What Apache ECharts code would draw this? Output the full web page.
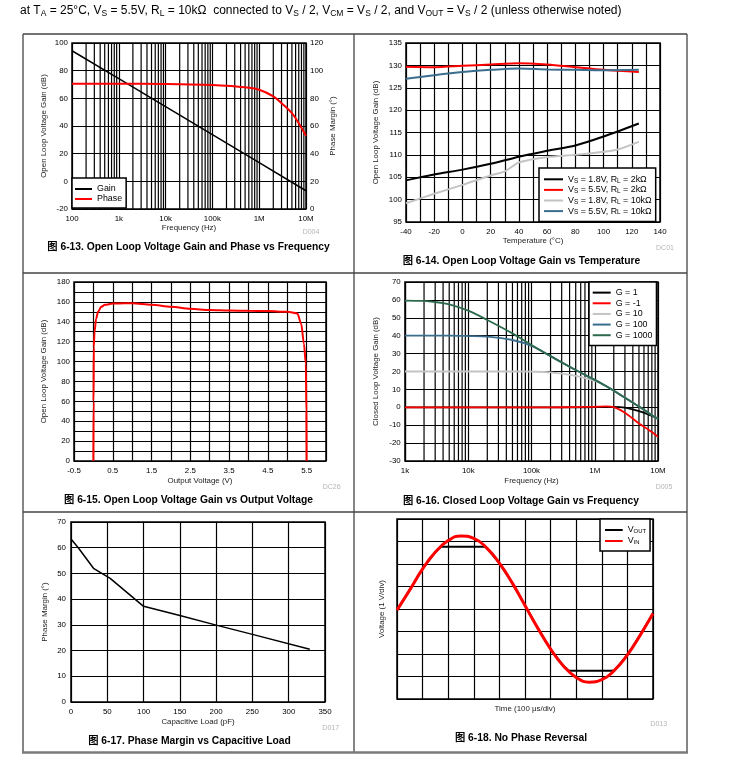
<!DOCTYPE html>
<html><head><meta charset="utf-8">
<script src="https://cdn.jsdelivr.net/npm/echarts@6/dist/echarts.min.js"></script>
<style>html,body{margin:0;padding:0;background:#fff;}#c{width:738px;height:763px;}</style>
</head><body><div id="c"></div>
<script>
// ---------- Panel 1: Open loop gain & phase vs frequency ----------
const p1Freq = [100, 1e3, 1e4, 1e5, 1e6, 1e7];
const p1Gain = [94.4, 74.2, 54.0, 33.8, 13.6, -6.8];
const p1PhaseFreq = [100, 1e3, 1e4, 1e5, 3e5, 5e5, 1e6, 2e6, 3e6, 5e6, 7e6, 1e7];
const p1Phase = [90.5, 90.5, 90.3, 89.6, 88.7, 88.0, 86.2, 81.4, 76.5, 69.3, 62.0, 52.9];
const p1TickLabels = ['100', '1k', '10k', '100k', '1M', '10M'];

// ---------- Panel 2: Open loop gain vs temperature ----------
const p2Temp = [-40, -20, 0, 20, 40, 60, 80, 100, 125];
const p2Vs18Rl2k = [104.3, 105.6, 106.7, 108.0, 109.6, 110.9, 112.1, 114.1, 117.0];
const p2Vs55Rl2k = [129.7, 129.6, 129.9, 130.2, 130.5, 130.2, 129.6, 129.0, 128.5];
const p2TempB = [-40, -20, 0, 20, 30, 40, 60, 80, 100, 110, 125];
const p2Vs18Rl10k = [99.2, 101.3, 103.3, 105.4, 106.3, 108.3, 109.5, 110.0, 110.7, 111.2, 112.9];
const p2Vs55Rl10k = [127.0, 127.8, 128.5, 129.0, 129.3, 129.1, 129.0, 128.9, 129.0];

// ---------- Panel 3: Open loop gain vs output voltage ----------
const p3Vout = [0.0, 0.005, 0.01, 0.03, 0.07, 0.12, 0.2, 0.3, 0.5, 0.8, 1.0, 1.5, 2.0, 2.5, 3.0, 3.5, 4.0, 4.5, 5.0, 5.26, 5.36, 5.43, 5.48, 5.495, 5.5];
const p3Gain = [0, 60, 115, 130, 143, 150, 155, 157, 158.3, 158.7, 158.6, 157.2, 155.0, 153.1, 151.8, 151.3, 151.1, 150.8, 150.1, 148.4, 138, 118, 98, 50, 0];

// ---------- Panel 4: Closed loop gain vs frequency ----------
const p4Freq = [1e3, 2e3, 3e3, 5e3, 1e4, 2e4, 5e4, 1e5, 2e5, 5e5, 1e6, 1.5e6, 2e6, 3e6, 5e6, 7e6, 1e7];
const p4G1 = [0, 0, 0, 0, 0, 0, 0, 0, 0, 0, 0.1, 0.2, 0.2, -0.2, -2.2, -4.0, -6.3];
const p4Gm1 = [0, 0, 0, 0, 0, 0, 0, 0, 0, 0.1, 0.3, 0.5, 0.1, -3.0, -9.0, -12.4, -16.4];
const p4G10 = [20, 20, 20, 20, 20, 20, 20, 19.9, 19.5, 17.5, 14.7, 11.9, 9.3, 5.3, 0.4, -3.0, -6.4];
const p4G100 = [40, 40, 40, 40, 39.8, 39.5, 37.6, 34.3, 28.6, 20.8, 15.3, 11.9, 9.3, 5.3, 0.4, -3.0, -6.5];
const p4G1000 = [59.6, 59.4, 58.8, 57.5, 54.0, 48.8, 41.3, 34.8, 28.6, 20.8, 15.3, 11.9, 9.3, 5.3, 0.4, -3.0, -6.5];
const p4TickLabels = ['1k', '10k', '100k', '1M', '10M'];

// ---------- Panel 5: Phase margin vs capacitive load ----------
const p5Cap = [0, 10, 31, 54, 100, 150, 200, 250, 329];
const p5Phase = [63.4, 60.0, 52.0, 48.1, 37.2, 33.6, 29.9, 26.3, 20.5];

// ---------- Panel 6: No phase reversal (divisions) ----------
const p6Time = [0, 0.5, 1, 1.5, 2, 2.5, 3, 3.5, 4, 4.5, 5, 5.5, 6, 6.5, 7, 7.5, 8, 8.5, 9, 9.5, 10];
const p6Vin = [-0.05, 0.85, 1.78, 2.53, 3.04, 3.25, 3.14, 2.72, 2.04, 1.16, 0.16, -0.85, -1.78, -2.53, -3.04, -3.25, -3.14, -2.72, -2.04, -1.16, -0.2];
const p6TimeOut = [0, 0.5, 1, 1.5, 1.72, 2, 2.5, 3, 3.42, 3.5, 4, 4.5, 5, 5.5, 6, 6.5, 6.72, 7, 7.5, 8, 8.38, 8.5, 9, 9.5, 10];
const p6Vout = [-0.05, 0.85, 1.78, 2.53, 2.77, 2.77, 2.77, 2.77, 2.77, 2.72, 2.04, 1.16, 0.16, -0.85, -1.78, -2.53, -2.74, -2.74, -2.74, -2.74, -2.74, -2.72, -2.04, -1.16, -0.2];

// ---------- font probe ----------
function hasFont(f) {
  const c = document.createElement('canvas').getContext('2d');
  const s = 'Open Loop Voltage Gain 0123456789';
  c.font = '40px monospace'; const a = c.measureText(s).width;
  c.font = '40px "' + f + '", monospace'; const b = c.measureText(s).width;
  return Math.abs(a - b) > 0.5;
}
const NARROW = hasFont('Liberation Sans Narrow');
const FF = NARROW ? '"Liberation Sans Narrow", "Noto Sans CJK SC", sans-serif' : '"Liberation Sans", Arial, "Noto Sans CJK SC", sans-serif';
const FS = NARROW ? 9 : 7.9;

const pts = (xs, ys) => xs.map((x, i) => [x, ys[i]]);
const GRID_LINE = { color: '#000', width: 1.2 };

// vertical minor grid lines (2..9 of each decade) drawn as a broken line series on the log axis
function minorGrid(xi, yi, e0, e1, y0, y1) {
  const d = [];
  for (let e = e0; e < e1; e++) for (let m = 2; m <= 9; m++) {
    const v = m * Math.pow(10, e);
    d.push([v, y0], [v, y1], [v, '-']);
  }
  return { type: 'line', xAxisIndex: xi, yAxisIndex: yi, data: d, z: 1, silent: true, showSymbol: false, symbol: 'none',
    connectNulls: false, lineStyle: { color: '#000', width: 1.2 }, itemStyle: { color: '#000' } };
}
function axisBase(o) {
  return Object.assign({
    axisLine: { show: false }, axisTick: { show: false },
    splitLine: { show: true, lineStyle: GRID_LINE },
    nameLocation: 'middle',
    nameTextStyle: { color: '#222', fontSize: FS, fontFamily: FF },
  }, o, {
    axisLabel: Object.assign({ color: '#000', fontSize: FS, fontFamily: FF }, o.axisLabel || {})
  });
}
const everyLabel = (step, base) => v => (Math.abs(((v - base) / step) - Math.round((v - base) / step)) < 1e-6 ? String(Math.round(v * 10) / 10) : '');

const grids = [
  { left: 72, top: 43, width: 234, height: 166 },
  { left: 406, top: 43, width: 254, height: 179 },
  { left: 74, top: 282, width: 252, height: 179 },
  { left: 405, top: 282, width: 253, height: 179 },
  { left: 71, top: 522, width: 254, height: 180 },
  { left: 397, top: 519, width: 256, height: 180 },
].map(g => Object.assign({ show: true, borderColor: '#000', borderWidth: 1.5, containLabel: false }, g));

const xAxis = [
  axisBase({ gridIndex: 0, type: 'log', logBase: 10, min: 100, max: 1e7, name: 'Frequency (Hz)', nameGap: 14,
    axisLabel: { margin: 6, formatter: v => p1TickLabels[Math.round(Math.log10(v)) - 2] } }),
  axisBase({ gridIndex: 1, type: 'value', min: -40, max: 140, interval: 10, name: 'Temperature (°C)', nameGap: 15,
    axisLabel: { margin: 5.5, formatter: everyLabel(20, -40) } }),
  axisBase({ gridIndex: 2, type: 'value', min: -0.5, max: 6, interval: 0.5, name: 'Output Voltage (V)', nameGap: 15.5,
    axisLabel: { margin: 5.5, formatter: everyLabel(1, -0.5) } }),
  axisBase({ gridIndex: 3, type: 'log', logBase: 10, min: 1e3, max: 1e7, name: 'Frequency (Hz)', nameGap: 16,
    axisLabel: { margin: 6, formatter: v => p4TickLabels[Math.round(Math.log10(v)) - 3] } }),
  axisBase({ gridIndex: 4, type: 'value', min: 0, max: 350, interval: 50, name: 'Capacitive Load (pF)', nameGap: 15.5,
    axisLabel: { margin: 5.5 } }),
  axisBase({ gridIndex: 5, type: 'value', min: 0, max: 10, interval: 1, name: 'Time (100 μs/div)', nameGap: 6,
    axisLabel: { show: false } }),
];
const yAxis = [
  axisBase({ gridIndex: 0, type: 'value', min: -20, max: 100, interval: 20, name: 'Open Loop Voltage Gain (dB)', nameGap: 24,
    axisLabel: { margin: 4 } }),
  axisBase({ gridIndex: 0, type: 'value', position: 'right', min: 0, max: 120, interval: 20, name: 'Phase Margin (°)', nameGap: 23,
    splitLine: { show: false }, axisLabel: { margin: 4 } }),
  axisBase({ gridIndex: 1, type: 'value', min: 95, max: 135, interval: 5, name: 'Open Loop Voltage Gain (dB)', nameGap: 26,
    axisLabel: { margin: 4 } }),
  axisBase({ gridIndex: 2, type: 'value', min: 0, max: 180, interval: 10, name: 'Open Loop Voltage Gain (dB)', nameGap: 26,
    axisLabel: { margin: 4, formatter: everyLabel(20, 0) } }),
  axisBase({ gridIndex: 3, type: 'value', min: -30, max: 70, interval: 10, name: 'Closed Loop Voltage Gain (dB)', nameGap: 25,
    axisLabel: { margin: 4.3 } }),
  axisBase({ gridIndex: 4, type: 'value', min: 0, max: 70, interval: 10, name: 'Phase Margin (°)', nameGap: 22,
    axisLabel: { margin: 5 } }),
  axisBase({ gridIndex: 5, type: 'value', min: -4, max: 4, interval: 1, name: 'Voltage (1 V/div)', nameGap: 11,
    axisLabel: { show: false } }),
];

function line(name, xi, yi, data, color, width, smooth, extra) {
  return Object.assign({
    name, type: 'line', xAxisIndex: xi, yAxisIndex: yi, data, showSymbol: false, symbol: 'none',
    smooth: smooth || false, lineStyle: { color, width }, itemStyle: { color }, z: 3, silent: true
  }, extra || {});
}
const RED = '#ff0000', GRAY = '#c3c3c3', BLUE = '#3b6e8e', GREEN = '#2d6a4c';
const series = [
  minorGrid(0, 0, 2, 7, -20, 100),
  line('Gain', 0, 0, pts(p1Freq, p1Gain), '#000', 1.5),
  line('Phase', 0, 1, pts(p1PhaseFreq, p1Phase), RED, 2, 0.4),

  line('VS = 1.8V, RL = 2kΩ', 1, 2, pts(p2Temp, p2Vs18Rl2k), '#000', 2, 0.3),
  line('VS = 5.5V, RL = 2kΩ', 1, 2, pts(p2Temp, p2Vs55Rl2k), RED, 2, 0.3),
  line('VS = 1.8V, RL = 10kΩ', 1, 2, pts(p2TempB, p2Vs18Rl10k), GRAY, 2, 0.3),
  line('VS = 5.5V, RL = 10kΩ', 1, 2, pts(p2Temp, p2Vs55Rl10k), BLUE, 2, 0.3),

  line('Gain vs Vout', 2, 3, pts(p3Vout, p3Gain), RED, 2, 0.3, { smoothMonotone: 'x' }),

  minorGrid(3, 4, 3, 7, -30, 70),
  line('G = 1', 3, 4, pts(p4Freq, p4G1), '#000', 1.8, 0.3),
  line('G = -1', 3, 4, pts(p4Freq, p4Gm1), RED, 1.8, 0.3),
  line('G = 10', 3, 4, pts(p4Freq, p4G10), GRAY, 1.8, 0.3),
  line('G = 100', 3, 4, pts(p4Freq, p4G100), BLUE, 1.8, 0.3),
  line('G = 1000', 3, 4, pts(p4Freq, p4G1000), GREEN, 1.8, 0.3),

  line('Phase Margin', 4, 5, pts(p5Cap, p5Phase), '#000', 1.5),

  line('VOUT', 5, 6, pts(p6TimeOut, p6Vout), '#000', 2),
  line('VIN', 5, 6, pts(p6Time, p6Vin), RED, 3, 0.5),
];

const subRich = (size, pad) => ({ s: { fontSize: size, fontFamily: FF, color: '#000', padding: [pad, 0, 0, 0] } });
function legend(o) {
  return Object.assign({
    orient: 'vertical', itemGap: 0, icon: 'rect', itemHeight: 2,
    backgroundColor: '#fff', borderColor: '#000', borderWidth: 1.5, borderRadius: 0,
    selectedMode: false, z: 10,
  }, o);
}
const LFS = FS + 1;
const legends = [
  legend({ left: 72, top: 178, padding: [6, 4, 4, 3], itemWidth: 17, data: ['Gain', 'Phase'],
    textStyle: { fontSize: LFS, fontFamily: FF, color: '#000', lineHeight: 10 } }),
  legend({ left: 539, top: 168, padding: [6, 4, 5, 5], itemWidth: 19,
    data: ['VS = 1.8V, RL = 2kΩ', 'VS = 5.5V, RL = 2kΩ', 'VS = 1.8V, RL = 10kΩ', 'VS = 5.5V, RL = 10kΩ'],
    formatter: n => n.replace('VS', 'V{s|S}').replace('RL', 'R{s|L}'),
    textStyle: { fontSize: LFS, fontFamily: FF, color: '#000', lineHeight: 10.6, rich: subRich(LFS - 2.5, 3) } }),
  legend({ left: 589, top: 282, padding: [5.3, 4, 5, 3.7], itemWidth: 18,
    data: ['G = 1', 'G = -1', 'G = 10', 'G = 100', 'G = 1000'],
    textStyle: { fontSize: LFS, fontFamily: FF, color: '#000', lineHeight: 10.65 } }),
  legend({ left: 600, top: 519, padding: [5.5, 4, 4.5, 5], itemWidth: 17.7, data: ['VOUT', 'VIN'],
    formatter: n => n.replace('VOUT', 'V{s|OUT}').replace('VIN', 'V{s|IN}'),
    textStyle: { fontSize: LFS, fontFamily: FF, color: '#000', lineHeight: 11, rich: subRich(LFS - 3, 2) } }),
];

// ---------- page texts & frame ----------
const headerText = 'at T{s|A} = 25°C, V{s|S} = 5.5V, R{s|L} = 10kΩ  connected to V{s|S} / 2, V{s|CM} = V{s|S} / 2, and V{s|OUT} = V{s|S} / 2 (unless otherwise noted)';
const captions = [
  ['图 6-13. Open Loop Voltage Gain and Phase vs Frequency', 188.5, 246.7],
  ['图 6-14. Open Loop Voltage Gain vs Temperature', 521.5, 261],
  ['图 6-15. Open Loop Voltage Gain vs Output Voltage', 188.5, 500],
  ['图 6-16. Closed Loop Voltage Gain vs Frequency', 521, 501],
  ['图 6-17. Phase Margin vs Capacitive Load', 189.5, 741],
  ['图 6-18. No Phase Reversal', 521, 738],
];
const codes = [['D004', 311, 231.7], ['DC01', 665, 247.7], ['DC26', 331.7, 486.7], ['D005', 664, 487], ['D017', 330.7, 727.7], ['D013', 658.7, 724]];

const graphic = [];
const frame = [[23, 34, 687, 34], [23, 273, 687, 273], [23, 512, 687, 512], [23, 34, 23, 752], [354, 34, 354, 752], [687, 34, 687, 752]];
frame.forEach(f => graphic.push({ type: 'line', silent: true, shape: { x1: f[0], y1: f[1], x2: f[2], y2: f[3] }, style: { stroke: '#444', lineWidth: 1.3 } }));
graphic.push({ type: 'line', silent: true, shape: { x1: 22, y1: 752.5, x2: 688, y2: 752.5 }, style: { stroke: '#7a7a7a', lineWidth: 2.5 } });
graphic.push({ type: 'text', silent: true, x: 20, y: 11, style: { text: headerText, fontSize: NARROW ? 14 : 12, fontFamily: FF, fill: '#000',
  textAlign: 'left', textVerticalAlign: 'middle', align: 'left', verticalAlign: 'middle',
  rich: { s: { fontSize: NARROW ? 9.5 : 8.5, fontFamily: FF, fill: '#000', padding: [6, 0, 0, 0] } } } });
captions.forEach(c => graphic.push({ type: 'text', silent: true, x: c[1], y: c[2], style: { text: c[0], fontSize: NARROW ? 12 : 10.3, fontWeight: 'bold', fontFamily: FF, fill: '#000',
  textAlign: 'center', textVerticalAlign: 'middle', align: 'center', verticalAlign: 'middle' } }));
codes.forEach(c => graphic.push({ type: 'text', silent: true, x: c[1], y: c[2], style: { text: c[0], fontSize: 7, fontFamily: FF, fill: '#b5b5b5',
  textAlign: 'center', textVerticalAlign: 'middle', align: 'center', verticalAlign: 'middle' } }));

const chart = echarts.init(document.getElementById('c'), null, { renderer: 'canvas', width: 738, height: 763 });
chart.setOption({ animation: false, backgroundColor: '#fff', grid: grids, xAxis, yAxis, series, legend: legends, graphic });
</script></body></html>
